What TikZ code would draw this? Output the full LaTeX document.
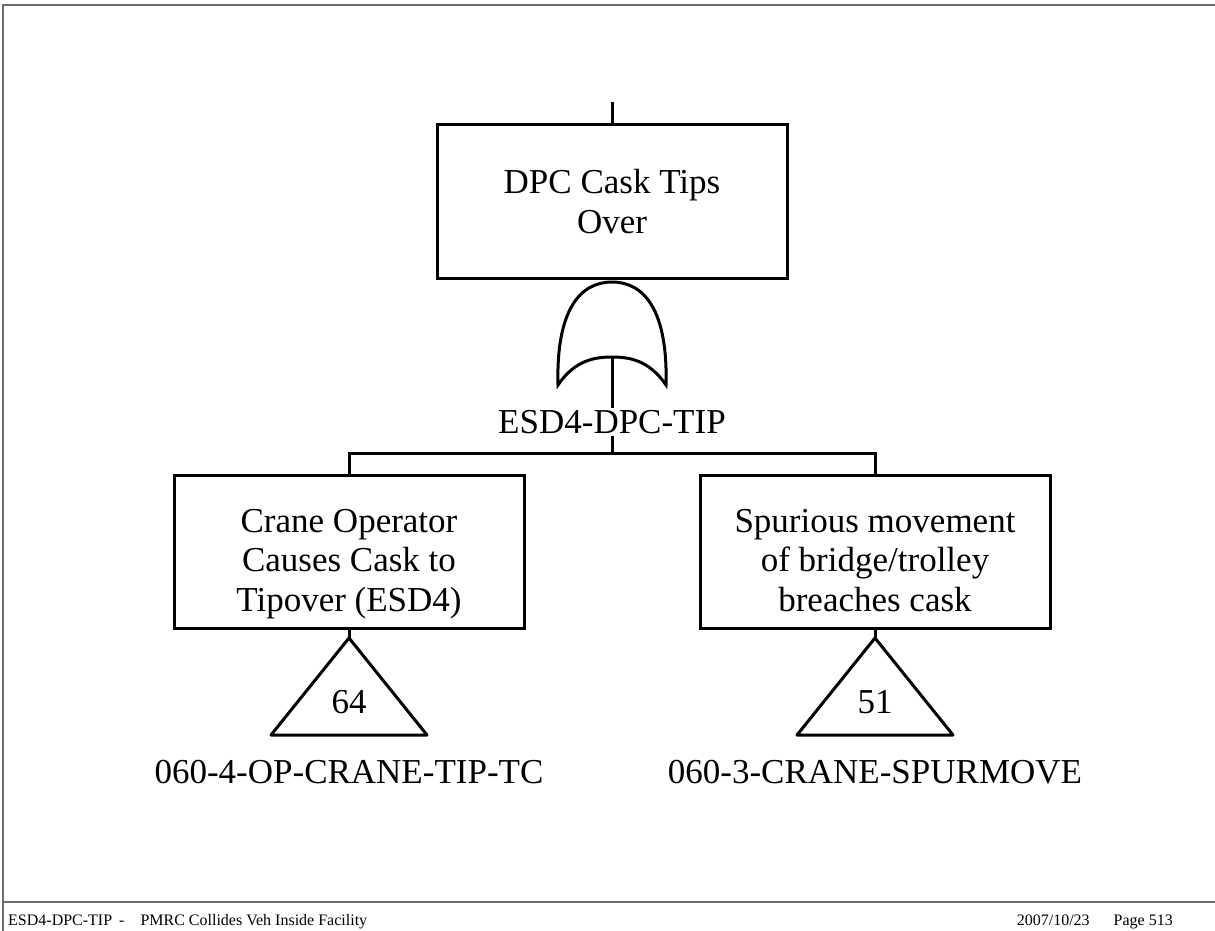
\documentclass[tikz,border=0pt]{standalone}
\usepackage{fontspec}
\setmainfont{Liberation Serif}
\usetikzlibrary{positioning, calc}
\definecolor{ftframe}{HTML}{6E6E6E}
\newcommand{\ftbig}{\fontsize{35}{39.5}\selectfont}
\newcommand{\ftsmall}{\fontsize{16}{19}\selectfont}
\newcommand{\evgap}{\rule{0pt}{52pt}}
\newcommand{\evend}{\rule[-12pt]{0pt}{12pt}}

\begin{document}
\begin{tikzpicture}[x=1pt, y=-1pt,
  event/.style={draw, line width=3pt, minimum width=350pt, minimum height=153pt,
    align=center, font=\ftbig, inner sep=0pt},
  link/.style={line width=3pt},
  ident/.style={font=\ftbig, fill=white, inner sep=2pt},
  footer/.style={font=\ftsmall, inner sep=0pt}]
\useasboundingbox (0,0) rectangle (1215,931);
% Page frame and footer
\draw[ftframe, line width=1.5pt] (1215,5) -- (3,5) -- (3,931);
\draw[ftframe, line width=1.5pt] (3,902) -- (1215,902);
\node[footer, anchor=base west] (fleft) at (8,925) {ESD4-DPC-TIP\hspace{7pt}-\hspace{16pt}PMRC Collides Veh Inside Facility};
\node[footer, anchor=base east] (fright) at (1173,925) {2007/10/23\hspace{24pt}Page 513};
% Top event
\coordinate (ttop) at (612,102);
\node[event] (top) at (612,201.5) {DPC Cask Tips\\Over};
\draw[link] (ttop) -- (top);
% OR gate
\coordinate (gtop) at (612,282);
\coordinate (gbot) at (612,357);
\draw[link] (558,385) .. controls (556,310) and (580,282) .. (gtop)
  .. controls (644,282) and (668,310) .. (666,385)
  .. controls (649,360) and (629,357) .. (gbot)
  .. controls (595,357) and (575,360) .. cycle;
\node[ident] (gname) at (612,422) {ESD4-DPC-TIP};
\draw[link] (gbot) -- (gname);
% Inputs
\coordinate (bar) at (612,453);
\node[event] (lbox) at (349,551.5) {\evgap Crane Operator\\Causes Cask to\\Tipover (ESD4)\evend};
\node[event] (rbox) at (875,551.5) {\evgap Spurious movement\\of bridge/trolley\\breaches cask\evend};
\draw[link] (gname) -- (bar);
\draw[link] (lbox.north) |- (bar) -| (rbox.north);
% Transfer triangles
\foreach \cx/\evt/\num/\name [count=\i] in {349/lbox/64/060-4-OP-CRANE-TIP-TC, 875/rbox/51/060-3-CRANE-SPURMOVE} {
  \coordinate (tri\i) at (\cx,638);
  \draw[link] (\evt.south) -- (tri\i);
  \draw[link, line join=round] (tri\i) -- (\cx+78,735) -- (\cx-78,735) -- cycle;
  \node[font=\ftbig] (num\i) at (\cx,702) {\num};
  \node[font=\ftbig] (base\i) at (\cx,772) {\name};
}
\end{tikzpicture}
\end{document}
